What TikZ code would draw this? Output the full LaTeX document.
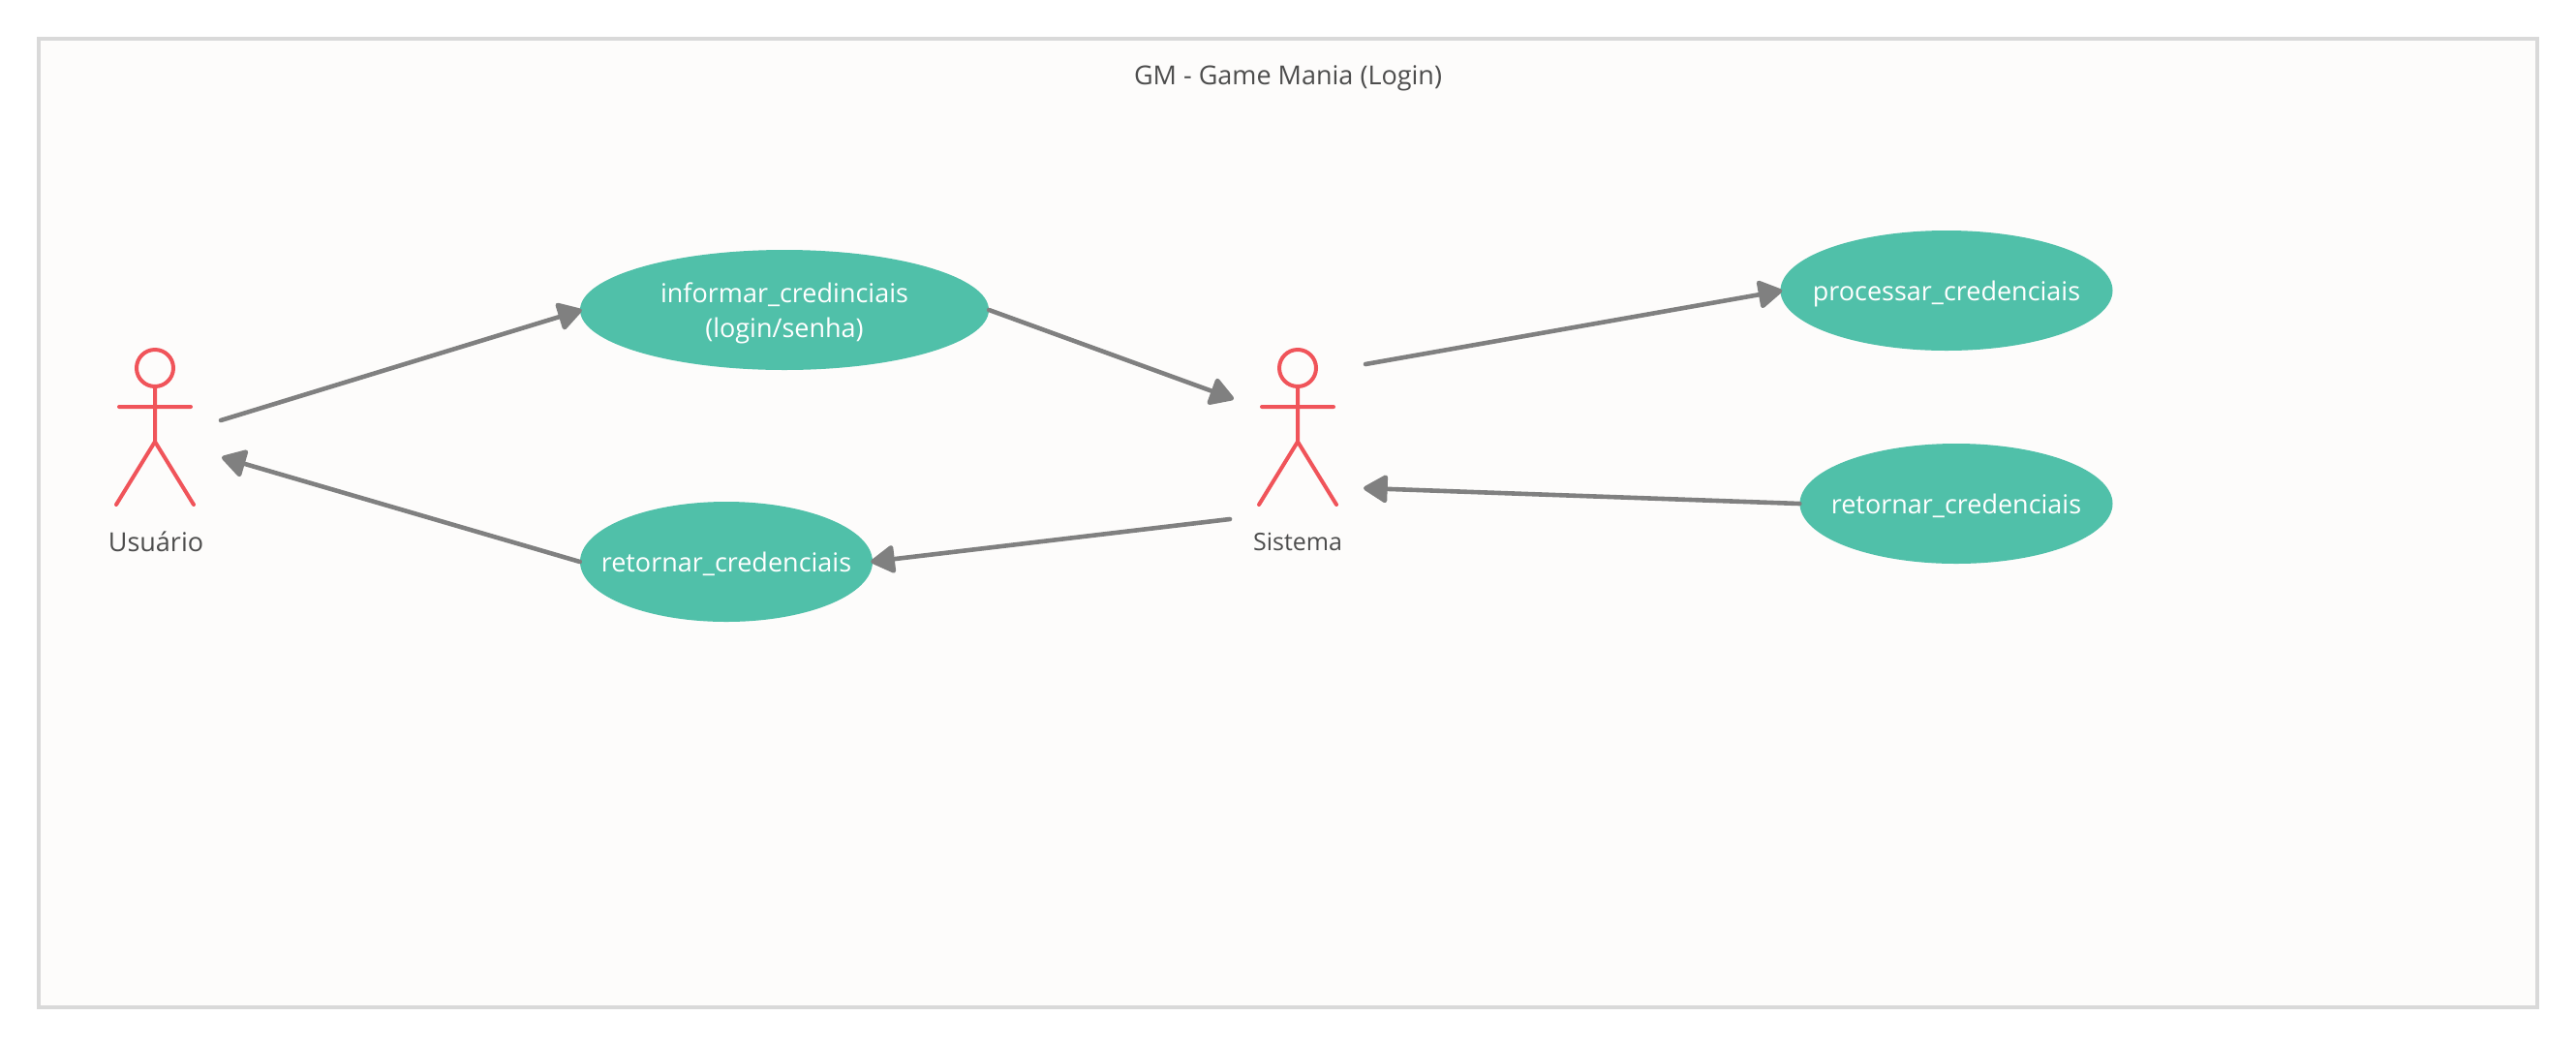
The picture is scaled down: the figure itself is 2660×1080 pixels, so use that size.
\documentclass[tikz,border=0pt]{standalone}
\usepackage{fontspec}
\setmainfont{Open Sans}
\usetikzlibrary{arrows.meta,shapes.geometric}
\definecolor{framefill}{HTML}{FDFCFB}
\definecolor{framedraw}{HTML}{D9D9D9}
\definecolor{teal}{HTML}{50C0A9}
\definecolor{actorred}{HTML}{F0545A}
\definecolor{linkgray}{HTML}{808080}
\definecolor{inkgray}{HTML}{4D4D4D}
\newcommand{\uctext}[1]{\makebox[0pt][c]{\raisebox{-10pt}[0pt][0pt]{\begin{tabular}{@{}c@{}}#1\end{tabular}}}}
\tikzset{
  x=1pt,y=-1pt,
  usecase/.style={ellipse,fill=teal,text=white,inner sep=0pt,minimum height=124pt,font=\fontsize{27}{36}\selectfont},
  label text/.style={text=inkgray,inner sep=0pt,font=\fontsize{27}{32}\selectfont},
  link/.style={draw=linkgray,line width=4.6pt,line cap=round,-{Triangle[length=27pt,width=31pt,round]}},
  actor/.pic={
    \draw[actorred,line width=4pt,line cap=round,fill=framefill] (0,0) circle[radius=19pt];
    \draw[actorred,line width=4pt,line cap=round,line join=miter] (0,19) -- (0,76) (-37,40) -- (37,40) (-40,141) -- (0,76) -- (40,141);
  }
}
\begin{document}
\begin{tikzpicture}
\useasboundingbox (0,0) rectangle (2660,1080);
\fill[white] (0,0) rectangle (2660,1080);
\draw[framedraw,fill=framefill,line width=4pt] (40,40) rectangle (2620,1040);
\node[label text] (title) at (1330,81) {GM - Game Mania (Login)};

\pic at (160,380) {actor};
\pic at (1340,380) {actor};
\node[label text] (usuario) at (161,559) {Usuário};
\node[label text,font=\fontsize{25}{32}\selectfont] (sistema) at (1340,559) {Sistema};

\node[usecase,minimum width=422pt] (informar) at (810,320) {\uctext{informar\_credinciais\\(login/senha)}};
\node[usecase,minimum width=302pt] (retornarA) at (750,580) {\uctext{retornar\_credenciais}};
\node[usecase,minimum width=343pt] (processar) at (2010,300) {\uctext{processar\_credenciais}};
\node[usecase,minimum width=323pt] (retornarB) at (2020,520) {\uctext{retornar\_credenciais}};

\coordinate (uOut) at (228,434);
\coordinate (uIn) at (229,472);
\coordinate (sInL) at (1274,412);
\coordinate (sOutL) at (1270,536);
\coordinate (sOutR) at (1410,376);
\coordinate (sInR) at (1408,504);

\draw[link] (uOut) -- ([xshift=2pt]informar.west);
\draw[link] (informar.east) -- (sInL);
\draw[link] (sOutL) -- ([xshift=-2pt]retornarA.east);
\draw[link] (retornarA.west) -- (uIn);
\draw[link] (sOutR) -- ([xshift=2pt]processar.west);
\draw[link] (retornarB.west) -- (sInR);
\end{tikzpicture}
\end{document}
